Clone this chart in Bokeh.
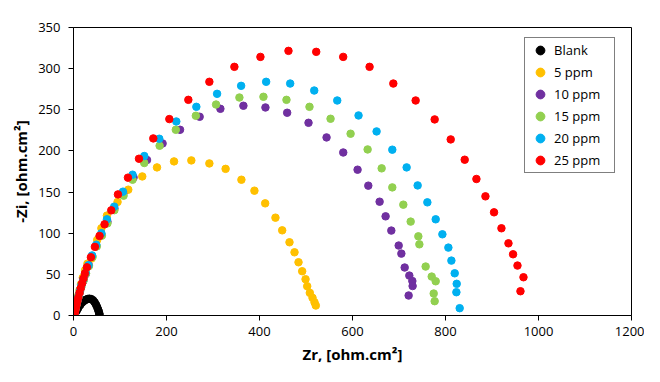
from bokeh.plotting import figure
from bokeh.models import Range1d, FixedTicker
from bokeh.embed import file_html
from bokeh.resources import INLINE

# ---- data ----
x_ticks = [0, 200, 400, 600, 800, 1000, 1200]
y_ticks = [0, 50, 100, 150, 200, 250, 300, 350]

series_names = ["Blank", "5 ppm", "10 ppm", "15 ppm", "20 ppm", "25 ppm"]
series_colors = ["#000000", "#FFC000", "#7030A0", "#92D050", "#00B0F0", "#FF0000"]

blank_zr = [2, 4, 7, 10, 14, 18, 22, 26, 30, 34, 38, 42, 45.5, 48.5, 51, 53, 54.5, 55.5, 56]
blank_zi = [1, 3, 6, 9, 12.5, 15.5, 17.5, 19, 20, 20.5, 20, 18.5, 16, 13, 10, 7, 4.5, 2.5, 1]

ppm5_zr = [1.5, 2.5, 4, 6, 8, 10, 13, 16, 20, 25, 30, 38.8, 51, 60, 71.9, 94.7, 117.8, 147.9,
           179.6, 216.2, 253.4, 292.2, 327.1, 361.1, 389.1, 412.2, 434.3, 448.8, 464.5,
           475.3, 483.9, 491.8, 499.0, 502.6, 508.2, 514.0, 518.3, 521.1]
ppm5_zi = [1.5, 4, 8, 13, 18, 24, 31, 38, 46, 55, 63, 69.2, 91.9, 106, 121.4, 138, 152.9, 169,
           180, 187.3, 188.5, 184.8, 178.2, 165, 151.7, 136.3, 118.9, 103.5, 89,
           76.8, 64.7, 53.8, 44.1, 35.6, 27.5, 21.5, 16.1, 12.1]

ppm10_zr = [1.5, 3, 5, 7, 10, 13, 16, 21, 26, 33, 40, 49, 60, 73, 88, 107, 129.2, 158.1,
            191.6, 229.1, 271.3, 315.9, 365.4, 412.8, 459.5, 505.4, 544.2, 580.1, 610.9,
            634.0, 658.3, 671.2, 683.5, 699.3, 705.1, 712.2, 722.2, 728.7, 729.3, 720.7]
ppm10_zi = [1.5, 5, 10, 15, 21, 27, 34, 42, 50, 61, 72, 84, 98, 114, 130, 148, 167.8, 189,
            209.1, 225.7, 241.5, 251.2, 254.9, 252.8, 246.4, 234.2, 216.4, 198.1, 177.2,
            157.8, 138.3, 120.5, 103.2, 85, 75.2, 58.3, 48.5, 41.9, 35.8, 24.3]

ppm15_zr = [1.5, 2.5, 4, 6, 8, 11, 14, 17, 22, 27, 33, 41, 50, 61, 73, 88, 107.7, 127.0,
            152.2, 185.2, 220.0, 263.1, 306.6, 356.8, 408.5, 458.0, 507.5, 552.8, 595.9,
            632.5, 662.7, 685.6, 709.3, 725.1, 741.6, 743.8, 757.3, 770.3, 778.9, 774.6, 776.7]
ppm15_zi = [1, 3.5, 7, 12, 17, 23, 29, 35, 43, 51, 60, 71, 84, 97, 112, 128, 145.6, 165,
            185.3, 206.3, 225.7, 242.7, 256.4, 264.9, 265.8, 262.1, 253.6, 239.1, 220.9,
            201.8, 178.8, 155.7, 134.7, 114.1, 96.2, 86.5, 59.5, 47.3, 41.6, 26.7, 17.4]

ppm20_zr = [1.5, 2.5, 4, 6, 8.5, 11, 14, 17, 21, 26, 32, 40, 49, 60, 71.9, 87.6, 106.4, 127.0,
            152.2, 184.5, 221.1, 264.2, 308.8, 360.5, 414.3, 466.0, 517.7, 567.2, 613.0,
            651.8, 685.6, 716.4, 740.1, 761.0, 778.9, 793.3, 806.2, 812.7, 819.8, 824.1,
            823.4, 830.5]
ppm20_zi = [1.5, 4, 8, 13, 18, 24, 30, 37, 44, 52, 61, 73, 86, 100, 116.9, 132.3, 150.5, 171.1,
            193.8, 214.8, 235.8, 253.6, 269.4, 279.1, 284, 281.9, 273.4, 261.3, 243.1,
            223.7, 201.5, 180, 158.1, 137.5, 116.9, 98.7, 82.5, 66.7, 51.3, 38.5,
            28.3, 8.9]

ppm25_zr = [1.5, 2.5, 3.5, 5, 6.5, 8.5, 10.5, 13, 15.5, 18.5, 21.5, 24.5, 28.8, 37.4, 46, 56,
            66.8, 81.2, 95.6, 117.1, 140.8, 171.6, 206.1, 247.0, 292.2, 346.0, 402.0, 462.3,
            522.0, 580.0, 636.7, 687.8, 735.8, 776.7, 811.2, 841.3, 866.5, 885.9, 904.4,
            920.3, 935.4, 945.3, 954.8, 967.7, 961.2]
ppm25_zi = [1, 3, 5.5, 9, 13, 17.5, 22, 27.5, 33, 39, 45, 51, 58.6, 70.8, 83.4, 96.7,
            110.8, 127.8, 147.2, 167.5, 190.5, 215.2, 238.7, 262.1, 284, 302.2, 314.3, 321.6,
            320.4, 314.3, 302.2, 281.9, 261.3, 238.3, 214, 189.3, 165.9, 144.8, 125.4,
            106, 87.7, 74.4, 60.7, 46.5, 29.5]

all_zr = [blank_zr, ppm5_zr, ppm10_zr, ppm15_zr, ppm20_zr, ppm25_zr]
all_zi = [blank_zi, ppm5_zi, ppm10_zi, ppm15_zi, ppm20_zi, ppm25_zi]

FONT = "Open Sans"

p = figure(frame_width=558, frame_height=288, output_backend="svg", toolbar_location=None,
           x_range=Range1d(0, 1200), y_range=Range1d(0, 350),
           min_border_left=73, min_border_right=13, min_border_top=27, min_border_bottom=50)

for zr, zi, name, col in zip(all_zr, all_zi, series_names, series_colors):
    p.scatter(zr, zi, size=7.5, fill_color=col, line_color=col, legend_label=name)

p.outline_line_color = "black"
p.outline_line_width = 1
p.xgrid.visible = False
p.ygrid.visible = False

p.xaxis.ticker = FixedTicker(ticks=x_ticks)
p.yaxis.ticker = FixedTicker(ticks=y_ticks)
for ax in (p.xaxis, p.yaxis):
    ax.axis_line_color = "black"
    ax.major_tick_line_color = "black"
    ax.major_tick_out = 5
    ax.major_tick_in = 0
    ax.minor_tick_out = 0
    ax.minor_tick_in = 0
    ax.major_label_text_font = FONT
    ax.major_label_text_font_size = "13px"
    ax.major_label_text_color = "black"
    ax.axis_label_text_font = FONT
    ax.axis_label_text_font_size = "15px"
    ax.axis_label_text_font_style = "bold"
    ax.axis_label_text_color = "black"

p.xaxis.axis_label = "Zr, [ohm.cm²]"
p.yaxis.axis_label = "-Zi, [ohm.cm²]"
p.xaxis.major_label_standoff = 6
p.xaxis.axis_label_standoff = 5
p.yaxis.major_label_standoff = 8
p.yaxis.axis_label_standoff = 4

lg = p.legend[0]
lg.location = (451, 142)
lg.border_line_color = "black"
lg.border_line_width = 1
lg.background_fill_color = "white"
lg.background_fill_alpha = 1
lg.padding = 1
lg.spacing = 0
lg.margin = 0
lg.glyph_width = 28
lg.glyph_height = 22
lg.label_height = 22
lg.label_standoff = 0
lg.label_width = 59
lg.label_text_font = FONT
lg.label_text_font_size = "13px"
lg.label_text_color = "black"

open("out.html", "w").write(file_html(p, INLINE))
